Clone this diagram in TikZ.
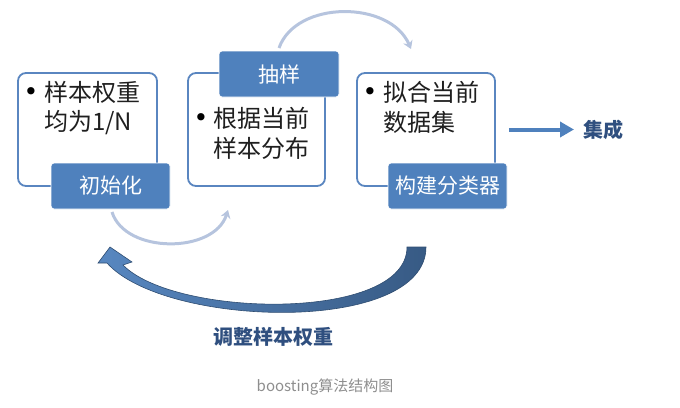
\documentclass[tikz,border=0pt]{standalone}
\usepackage{fontspec}
\setmainfont{Noto Sans CJK SC}
\newfontfamily\dejavu{DejaVu Sans}
\usetikzlibrary{arrows.meta}
\definecolor{boxblue}{HTML}{5A86C0}
\definecolor{tagblue}{HTML}{4F81BD}
\definecolor{arcblue}{HTML}{B6C4DE}
\definecolor{darkblue}{HTML}{2F4F7F}
\definecolor{capgray}{HTML}{8E8E8E}
\begin{document}
\begin{tikzpicture}[x=1pt,y=-1pt,
  panel/.style={draw=boxblue, line width=1.8pt, rounded corners=8pt, fill=white, inner sep=0pt, minimum height=113pt},
  tag/.style={fill=tagblue, draw=white, line width=0.8pt, rounded corners=3pt, minimum width=119pt, minimum height=46pt, text=white, inner sep=0pt, font=\fontsize{21}{21}\selectfont},
  body/.style={anchor=west, inner sep=0pt, text=black!88, font=\fontsize{24}{24}\selectfont},
  dot/.style={inner sep=0pt, text=black, font={\fontsize{25}{25}\dejavu}},
  thinarc/.style={draw=arcblue, line width=3pt, -{Stealth[length=8pt,width=10pt]}},
  biglabel/.style={text=darkblue, font=\fontsize{20}{20}\selectfont\bfseries},
]
\useasboundingbox (0,0) rectangle (680,407);
% panels
\node[panel, minimum width=139pt] (b1) at (87.5,129.5) {};
\node[panel, minimum width=137pt] (b2) at (256.5,129.5) {};
\node[panel, minimum width=138pt] (b3) at (426,129.5) {};
% body texts
\node[dot] (d1) at (31,94) {•};
\node[body] (t11) at (44,92) {样本权重};
\node[body] (t12) at (44,123) {均为1/N};
\node[dot] (d2) at (201,120) {•};
\node[body] (t21) at (213,118) {根据当前};
\node[body] (t22) at (213,148) {样本分布};
\node[dot] (d3) at (370,94) {•};
\node[body] (t31) at (383,92) {拟合当前};
\node[body] (t32) at (383,122) {数据集};
% tags
\node[tag] (l1) at (110.5,186) {初始化};
\node[tag, minimum width=120pt] (l2) at (279,74) {抽样};
\node[tag] (l3) at (447.5,186) {构建分类器};
% thin arcs
\coordinate (a1) at (279,48);
\coordinate (a2) at (411,49);
\draw[thinarc] (a1) .. controls (296,0) and (390,0) .. (a2);
\coordinate (c1) at (112,212);
\coordinate (c2) at (228,210);
\draw[thinarc] (c1) .. controls (125,254) and (214,254) .. (c2);
% right arrow
\node[biglabel] (jc) at (603,130) {集成};
\coordinate (e1) at (574,129.5);
\draw[draw=tagblue, line width=4pt, -{Triangle[length=14pt,width=15pt]}, shorten <=13pt] (b3.east) -- (e1);
% big curved arrow
\shade[left color=tagblue!95!white, right color=tagblue!70!black, draw=tagblue!60!black, line width=0.6pt]
  (407,247) -- (426,247)
  .. controls (426,335) and (165,328) .. (107,263)
  -- (98,263) -- (110,247) -- (132,262) -- (123,265)
  .. controls (175,318) and (407,322) .. (407,247) -- cycle;
\node[biglabel] (adj) at (273,337) {调整样本权重};
\node[text=capgray, font=\fontsize{15}{15}\selectfont] (cap) at (325,387) {boosting算法结构图};
\end{tikzpicture}
\end{document}
